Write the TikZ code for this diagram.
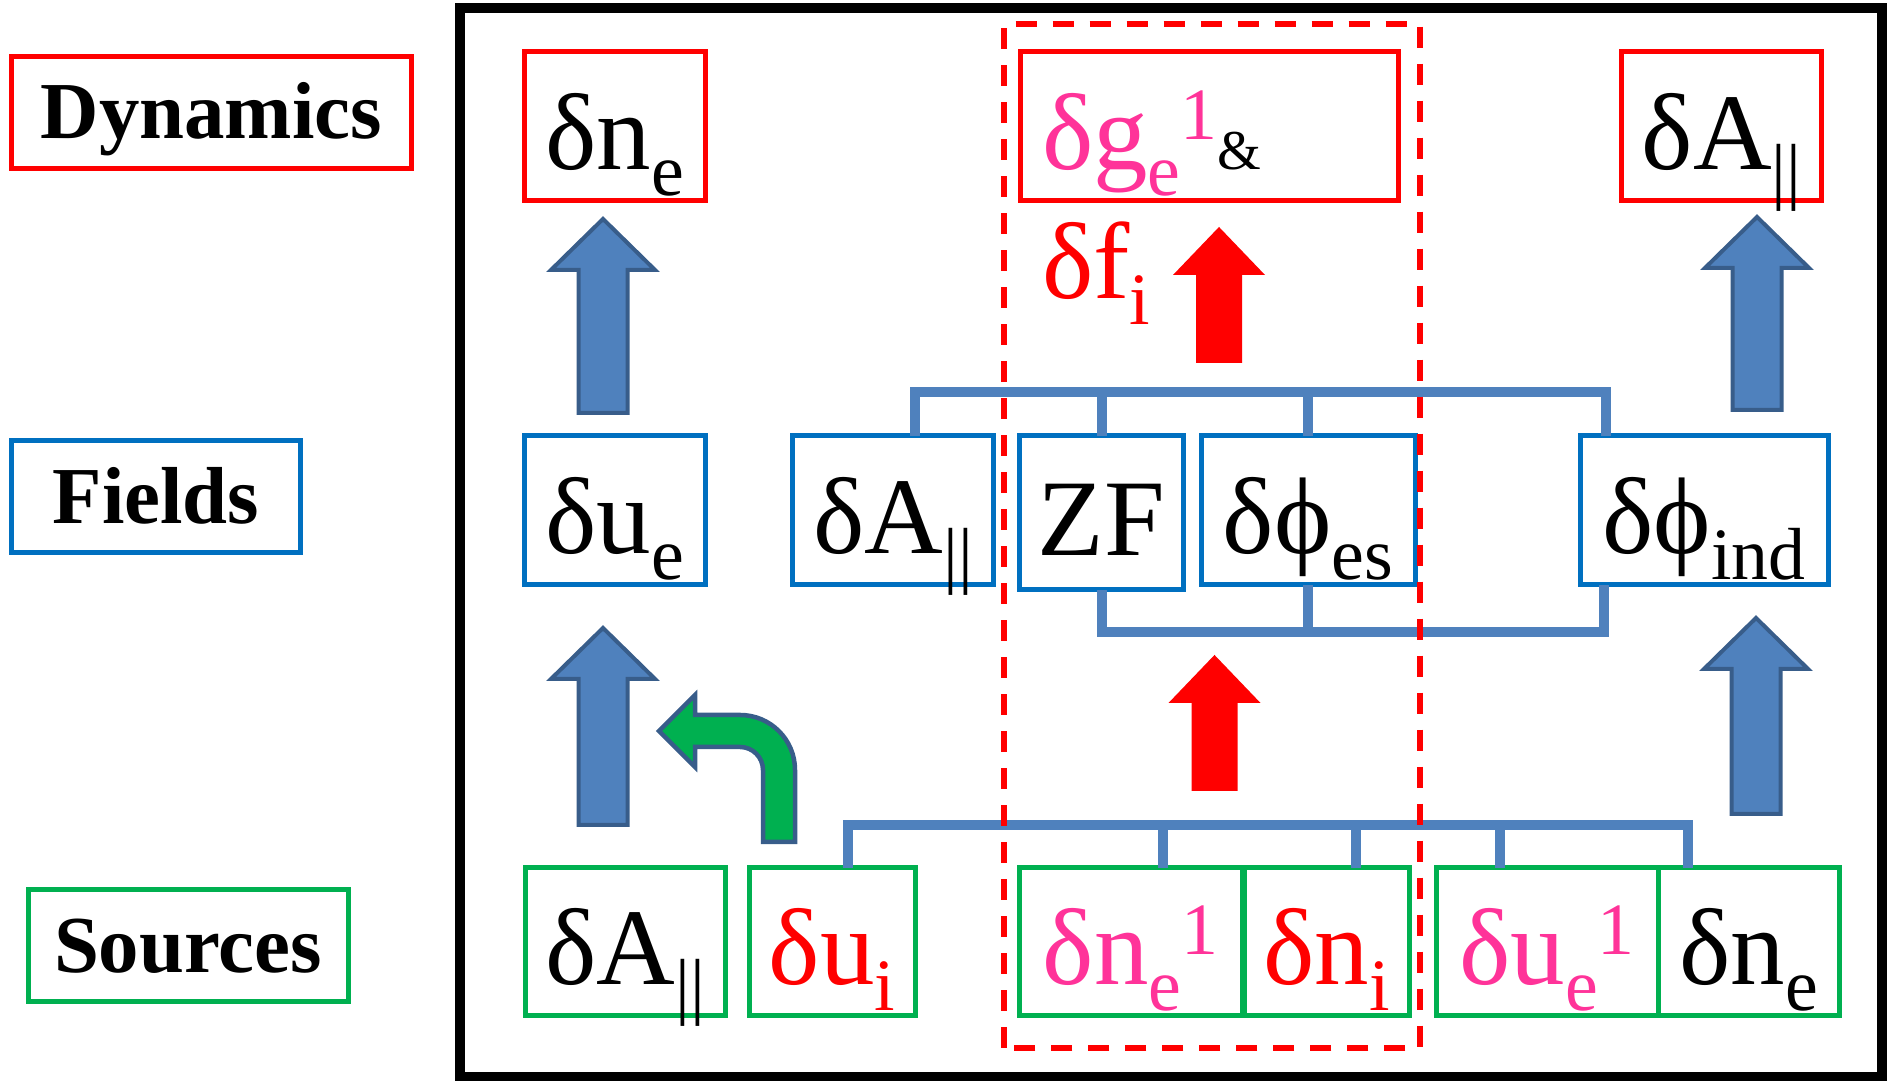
\documentclass[tikz,border=0pt]{standalone}
\usepackage{fontspec}
\setmainfont{Liberation Serif}
\usetikzlibrary{calc}
\definecolor{DynRed}{HTML}{FF0000}
\definecolor{FieldBlue}{HTML}{0070C0}
\definecolor{SourceGreen}{HTML}{00B050}
\definecolor{BusBlue}{HTML}{4F81BD}
\definecolor{ArrowEdge}{HTML}{385D8A}
\definecolor{MinorPink}{HTML}{FF3399}
\newcommand{\dsub}[1]{\raisebox{-0.26cm}{\fontsize{21}{21}\selectfont #1}}
\newcommand{\dsup}[1]{\raisebox{0.30cm}{\fontsize{21}{21}\selectfont #1}}

\begin{document}
\begin{tikzpicture}[
  every node/.style={inner sep=0pt, outer sep=0pt},
  quantity/.style={draw, line width=0.05cm, minimum height=1.49cm,
    text height=0.86cm, text depth=0pt, font=\fontsize{31}{31}\selectfont},
  dynbox/.style={quantity, draw=DynRed},
  fieldbox/.style={quantity, draw=FieldBlue},
  sourcebox/.style={quantity, draw=SourceGreen, minimum height=1.48cm},
  rowtag/.style={draw, line width=0.05cm, minimum height=1.12cm,
    text height=0.53cm, text depth=0pt, font=\bfseries\fontsize{23}{23}\selectfont},
  bus/.style={BusBlue, line width=0.1cm},
  fatblue/.style={fill=BusBlue, draw=ArrowEdge, line width=0.04cm},
]
  \useasboundingbox (0,0) rectangle (18.90,10.81);

  % Row labels outside the frame.
  \node[rowtag, draw=DynRed, minimum width=4.00cm] (tagdyn) at (2.115,9.685) {Dynamics};
  \node[rowtag, draw=FieldBlue, minimum width=2.88cm] (tagfld) at (1.56,5.84) {Fields};
  \node[rowtag, draw=SourceGreen, minimum width=3.20cm] (tagsrc) at (1.88,1.35) {Sources};

  \draw[line width=0.1cm] (4.60,0.04) rectangle (18.82,10.73);

  % Dynamics row.
  \node[dynbox, minimum width=1.81cm] (ned) at (6.145,9.545) {δn\dsub{e}};
  \node[dynbox, minimum width=3.78cm] (dg) at (12.09,9.545)
    {\makebox[3.34cm][l]{\color{MinorPink}δg\dsub{e}\dsup{1}\color{black}\fontsize{16}{16}\selectfont\&}};
  \node[dynbox, minimum width=2.00cm] (dAd) at (17.215,9.545) {δA\dsub{||}};
  \node[text=DynRed, font=\fontsize{31}{31}\selectfont, anchor=base west] (dfi) at (10.42,7.82) {δf\dsub{i}};

  % Fields row.
  \node[fieldbox, minimum width=1.81cm] (ue) at (6.145,5.705) {δu\dsub{e}};
  \node[fieldbox, minimum width=2.01cm] (dAf) at (8.93,5.705) {δA\dsub{||}};
  \node[fieldbox, minimum width=1.64cm, minimum height=1.54cm] (zf) at (11.015,5.68) {ZF};
  \node[fieldbox, minimum width=2.14cm] (phies) at (13.08,5.705) {δϕ\dsub{es}};
  \node[fieldbox, minimum width=2.48cm] (phiind) at (17.04,5.705) {δϕ\dsub{ind}};

  % Sources row.
  \node[sourcebox, minimum width=2.00cm] (dAs) at (6.25,1.39) {δA\dsub{||}};
  \node[sourcebox, minimum width=1.66cm, text=DynRed] (ui) at (8.32,1.39) {δu\dsub{i}};
  \node[sourcebox, minimum width=2.23cm, text=MinorPink] (ne1) at (11.305,1.39) {δn\dsub{e}\dsup{1}};
  \node[sourcebox, minimum width=1.65cm, text=DynRed] (ni) at (13.265,1.39) {δn\dsub{i}};
  \node[sourcebox, minimum width=2.22cm, text=MinorPink] (ue1) at (15.47,1.39) {δu\dsub{e}\dsup{1}};
  \node[sourcebox, minimum width=1.81cm] (nes) at (17.485,1.39) {δn\dsub{e}};

  % Bus lines joining the boxes.
  \draw[bus] ([xshift=0.22cm]dAf.north) -- ++(0,0.44) coordinate (fbus) -| ([xshift=-0.98cm]phiind.north);
  \foreach \n in {zf,phies}
    \draw[bus] (\n.north) -- (\n.north |- fbus);
  \draw[bus] (zf.south) -- ++(0,-0.425) coordinate (lbus) -| ([xshift=-1.00cm]phiind.south);
  \draw[bus] (phies.south) -- (phies.south |- lbus);
  \draw[bus] ([xshift=0.16cm]ui.north) -- ++(0,0.43) coordinate (sbus) -| ([xshift=-0.605cm]nes.north);
  \foreach \n/\dx in {ne1/0.325,ni/0.295,ue1/-0.47}
    \draw[bus] ([xshift=\dx cm]\n.north) -- ([xshift=\dx cm]\n.north |- sbus);

  % Block arrows.
  \foreach \cx/\yb/\yt in {6.03/6.68/8.62,6.03/2.56/4.53,17.57/6.71/8.64,17.56/2.67/4.63}
    \draw[fatblue] (\cx-0.245,\yb) -- (\cx-0.245,\yt-0.51) -- (\cx-0.52,\yt-0.51) -- (\cx,\yt)
      -- (\cx+0.52,\yt-0.51) -- (\cx+0.245,\yt-0.51) -- (\cx+0.245,\yb) -- cycle;
  \foreach \cx/\yb/\yt in {12.19/7.18/8.54,12.145/2.90/4.26}
    \fill[DynRed] (\cx-0.23,\yb) -- (\cx-0.23,\yt-0.48) -- (\cx-0.46,\yt-0.48) -- (\cx,\yt)
      -- (\cx+0.46,\yt-0.48) -- (\cx+0.23,\yt-0.48) -- (\cx+0.23,\yb) -- cycle;
  \draw[fill=SourceGreen, draw=ArrowEdge, line width=0.045cm]
    (6.95,3.66) -- (6.95,3.86) -- (6.59,3.50) -- (6.95,3.14) -- (6.95,3.34) -- (7.40,3.34)
    arc[start angle=90, end angle=0, radius=0.23] -- (7.63,2.39) -- (7.95,2.39) -- (7.95,3.11)
    arc[start angle=0, end angle=90, radius=0.55] -- cycle;

  % Dashed region around the kinetic part.
  \draw[DynRed, line width=0.06cm, dash pattern=on 0.21cm off 0.16cm] (10.035,0.33) rectangle (14.20,10.57);
\end{tikzpicture}
\end{document}
